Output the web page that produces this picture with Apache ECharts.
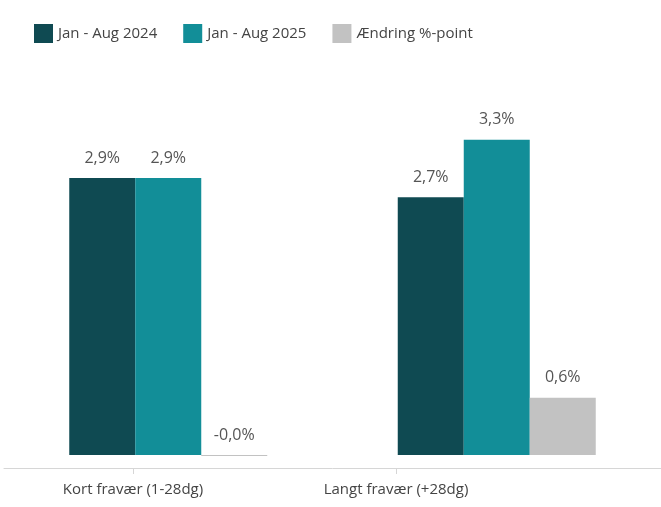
<!DOCTYPE html>
<html><head><meta charset="utf-8">
<script src="https://cdn.jsdelivr.net/npm/echarts@6/dist/echarts.min.js"></script>
<style>html,body{margin:0;padding:0;background:#fff}#c{width:661px;height:507px}</style>
</head><body><div id="c"></div>
<script>
const categories = ['Kort fravær (1-28dg)', 'Langt fravær (+28dg)'];
const seriesNames = ['Jan - Aug 2024', 'Jan - Aug 2025', 'Ændring %-point'];
const values2024 = [2.9, 2.7];
const values2025 = [2.9, 3.3];
const valuesChange = [-0.01, 0.6];
const colors = ['#0f4a52', '#128e98', '#c2c2c2'];

const font = '"Open Sans", "Noto Sans", sans-serif';
const fmt = p => p.value.toFixed(1).replace('.', ',') + '%';

const chart = echarts.init(document.getElementById('c'));
const mk = (name, data, i) => ({
  name, type: 'bar', data, barWidth: 66, barGap: '0%',
  xAxisIndex: 0, yAxisIndex: 0,
  itemStyle: { color: colors[i] },
  label: { show: true, position: 'top', distance: 12, formatter: fmt,
           color: '#555', fontSize: 16, fontFamily: font }
});
chart.setOption({
  animation: false,
  legend: {
    left: 29, top: 19, itemWidth: 19, itemHeight: 19, itemGap: 26,
    icon: 'rect',
    textStyle: { color: '#444', fontSize: 15, fontFamily: font },
    data: seriesNames
  },
  grid: [
    { left: 4, width: 660, top: 73, bottom: 39, containLabel: false },
    { left: 1.5, width: 526, top: 73, bottom: 39, containLabel: false }
  ],
  xAxis: [
    { type: 'category', gridIndex: 0, data: categories,
      axisLine: { onZero: false, lineStyle: { color: '#d6d6d6', width: 1 } },
      axisTick: { show: false }, axisLabel: { show: false } },
    { type: 'category', gridIndex: 1, data: categories,
      axisLine: { show: false },
      axisTick: { show: true, alignWithLabel: true, length: 6, lineStyle: { color: '#d6d6d6' } },
      axisLabel: { color: '#444', fontSize: 15, fontFamily: font, margin: 14 } }
  ],
  yAxis: [
    { type: 'value', gridIndex: 0, min: -0.136, max: 4, show: false, splitLine: { show: false } },
    { type: 'value', gridIndex: 1, min: 0, max: 1, show: false, splitLine: { show: false } }
  ],
  series: [
    mk(seriesNames[0], values2024, 0),
    mk(seriesNames[1], values2025, 1),
    mk(seriesNames[2], valuesChange, 2)
  ]
});
</script></body></html>
